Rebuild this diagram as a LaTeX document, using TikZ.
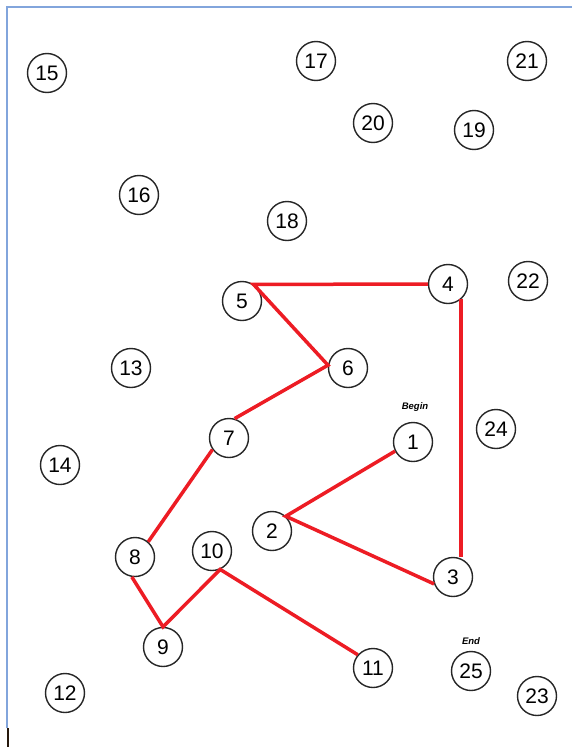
\documentclass[tikz,border=0pt]{standalone}
\usepackage{fontspec}
\setmainfont{Liberation Sans}
\definecolor{pathred}{RGB}{237,28,36}
\definecolor{framebl}{RGB}{130,165,220}
\begin{document}
\begin{tikzpicture}[x=1pt,y=-1pt,
  city/.style={circle,draw=black!85,line width=1.4pt,minimum size=39pt,inner sep=0pt,font=\fontsize{21}{21}\selectfont},
  route/.style={draw=pathred,line width=3.5pt},
  tag/.style={font=\fontsize{9.5}{10}\selectfont\bfseries\itshape,inner sep=0pt}]
\useasboundingbox (0,0) rectangle (572,747);
\fill[white] (0,0) rectangle (572,747);
% frame
\draw[framebl,line width=1.3pt] (7,728) -- (7,7) -- (572,7);
\draw[black!80!brown,line width=2pt] (8,728) -- (8,747);
% cities
\node[city] (n1) at (413,442) {1};
\node[city] (n2) at (272,531) {2};
\node[city] (n3) at (453,577) {3};
\node[city] (n4) at (448,284) {4};
\node[city] (n5) at (242,301) {5};
\node[city] (n6) at (348,368) {6};
\node[city] (n7) at (229,438) {7};
\node[city] (n8) at (135,557) {8};
\node[city] (n9) at (163,647) {9};
\node[city] (n10) at (212,551) {10};
\node[city] (n11) at (373,668) {11};
\node[city] (n12) at (65,693) {12};
\node[city] (n13) at (131,368) {13};
\node[city] (n14) at (60,465) {14};
\node[city] (n15) at (47,73) {15};
\node[city] (n16) at (139,195) {16};
\node[city] (n17) at (316,61) {17};
\node[city] (n18) at (287,221) {18};
\node[city] (n19) at (474,130) {19};
\node[city] (n20) at (373,123) {20};
\node[city] (n21) at (527,61) {21};
\node[city] (n22) at (528,281) {22};
\node[city] (n23) at (537,696) {23};
\node[city] (n24) at (496,429) {24};
\node[city] (n25) at (471,671) {25};
% labels
\node[tag] (lbegin) at (415,407) {Begin};
\node[tag] (lend) at (471,641) {End};
% route
\coordinate (c4) at (n4.-50);
\coordinate (c5) at (n5.55);
\coordinate (c6) at (n6.172);
\coordinate (c2) at (n2.47);
\coordinate (c9) at (n9.north);
\coordinate (c10) at (n10.-66);
\path[route] (n1.207) -- (c2) -- (n3.200);
\path[route] (c4) -- (c4 |- n3.75);
\path[route] (n4.180) -- (c5) -- (c6) -- (n7.74);
\path[route] (n7.215) -- (n8.49);
\path[route] (n8.-99) -- (c9) -- (c10) -- (n11.139);
\end{tikzpicture}
\end{document}
